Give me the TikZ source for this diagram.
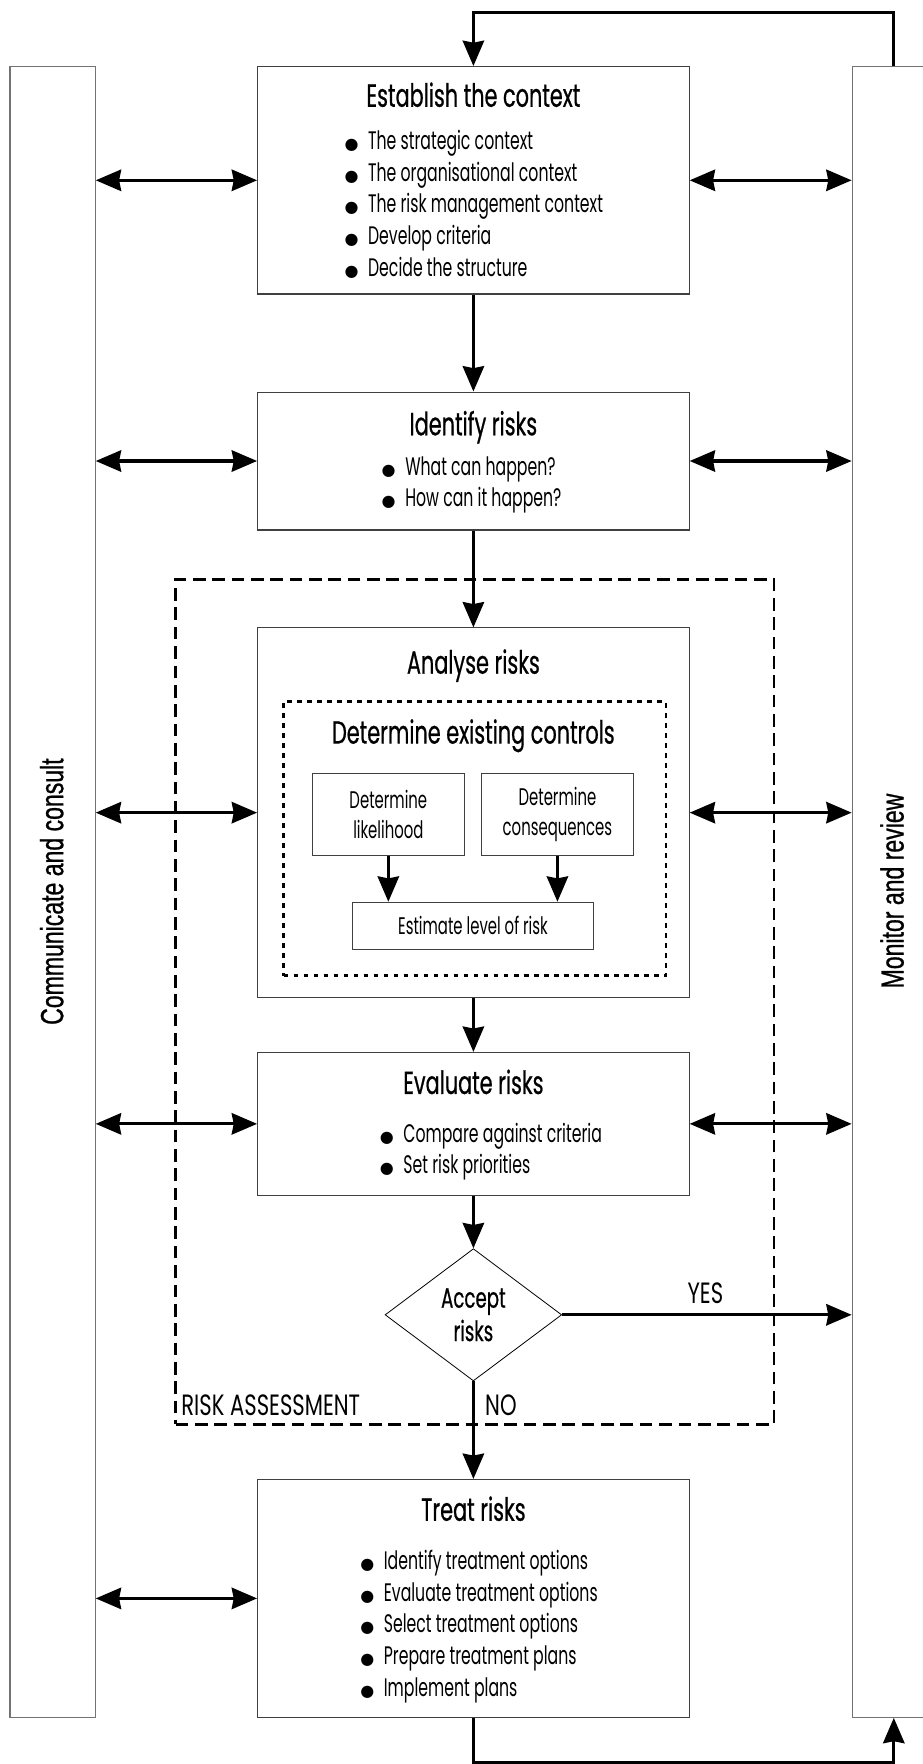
\documentclass[tikz,border=0pt]{standalone}
\usepackage{fontspec}
\setmainfont{Poppins}[FakeStretch=0.62]
\newfontfamily\headfont{Poppins}[FakeStretch=0.65,FakeBold=0.6]
\newfontfamily\capfont{Poppins}[FakeStretch=0.72]
\newfontfamily\sidefont{Liberation Sans}[FakeStretch=0.72,FakeBold=0.8]
\newfontfamily\dotfont{DejaVu Sans}
\usetikzlibrary{arrows.meta,shapes.geometric}

\newcommand{\bul}{\makebox[17.7pt][l]{\dotfont\fontsize{12}{12}\selectfont ●}}

\tikzset{
  stage/.style={draw=black!75, line width=0.8pt, minimum width=323.5pt, anchor=north, inner sep=0pt},
  panel/.style={draw=black!55, line width=0.8pt, anchor=north west, inner sep=0pt, minimum height=1237.4pt},
  subbox/.style={draw=black!75, line width=0.8pt, inner sep=0pt, align=center, font=\fontsize{18}{23}\selectfont},
  title/.style={font=\headfont\fontsize{24}{26}\selectfont, inner sep=0pt, anchor=base},
  item/.style={font=\fontsize{19}{24}\selectfont, inner sep=0pt, anchor=base west},
  flag/.style={font=\capfont\fontsize{22}{24}\selectfont, inner sep=0pt},
  side/.style={font=\sidefont\fontsize{24}{26}\selectfont, inner sep=0pt, rotate=90},
  arr/.style={line width=2.3pt, -{Stealth[length=19pt,width=16pt,inset=1.5pt]}},
  dbl/.style={line width=2.3pt, {Stealth[length=19pt,width=16pt,inset=1.5pt]}-{Stealth[length=19pt,width=16pt,inset=1.5pt]}},
  assess/.style={draw, line width=1.8pt, dash pattern=on 9.5pt off 5pt, anchor=north west, inner sep=0pt},
  ctrlbox/.style={draw, line width=1.8pt, dash pattern=on 3.6pt off 3.9pt, anchor=north west, inner sep=0pt}
}

\begin{document}
\begin{tikzpicture}[x=0.8433pt,y=0.8433pt,yscale=-1,xscale=1]
\useasboundingbox (0,0) rectangle (820,1568);

%Side panels
\node[panel, minimum width=63.9pt] (cc) at (8.4,58.7) {};
\node[panel, minimum width=84.3pt] (mr) at (757,58.7) {};
\node[side] (cclabel) at (46,792.5) {Communicate and consult};
\node[side] (mrlabel) at (793,792) {Monitor and review};

%Risk assessment frame
\node[assess, minimum width=448.6pt, minimum height=633.3pt] (ra) at (155,514) {};

%Stage boxes
\node[stage, minimum height=170.5pt] (ctx) at (420.8,58.7) {};
\node[stage, minimum height=103.4pt] (ident) at (420.8,348) {};
\node[stage, minimum height=276.9pt] (analyse) at (420.8,557.7) {};
\node[stage, minimum height=107.1pt] (evalr) at (420.8,935) {};
\node[stage, minimum height=178.3pt] (treat) at (420.8,1314.6) {};

% Text Node
\node[title] (ctxtitle) at (420.8,94.9) {Establish the context};
\node[item] (ctx1) at (306,132.5) {\bul The strategic context};
\node[item] (ctx2) at (306,160.9) {\bul The organisational context};
\node[item] (ctx3) at (306,189.3) {\bul The risk management context};
\node[item] (ctx4) at (306,217.7) {\bul Develop criteria};
\node[item] (ctx5) at (306,246.1) {\bul Decide the structure};

% Text Node
\node[title] (identtitle) at (420.8,386.9) {Identify risks};
\node[item] (ident1) at (339,422.4) {\bul What can happen?};
\node[item] (ident2) at (339,450.6) {\bul How can it happen?};

% Text Node
\node[title] (analysetitle) at (420.8,598.8) {Analyse risks};
\node[ctrlbox, minimum width=286.6pt, minimum height=205.5pt] (ctrl) at (251,622.5) {};
\node[title] (ctrltitle) at (420.8,661) {Determine existing controls};
\node[subbox, minimum width=113.9pt, minimum height=61.4pt] (likely) at (345.2,724) {Determine\\likelihood};
\node[subbox, minimum width=113.9pt, minimum height=61.4pt] (conseq) at (495.5,724) {Determine\\consequences};
\node[subbox, minimum width=181pt, minimum height=35.4pt] (level) at (420.4,823) {Estimate level of risk};

% Text Node
\node[title] (evaltitle) at (420.8,972.4) {Evaluate risks};
\node[item] (eval1) at (337.4,1015.3) {\bul Compare against criteria};
\node[item] (eval2) at (337.4,1043.5) {\bul Set risk priorities};

%Decision
\node[diamond, draw, line width=0.6pt, inner sep=0pt, minimum width=132.4pt, minimum height=99.1pt, align=center, font=\headfont\fontsize{21}{25}\selectfont] (accept) at (420.8,1168.7) {Accept\\risks};

% Text Node
\node[title] (treattitle) at (420.8,1351.8) {Treat risks};
\node[item] (treat1) at (320,1394.8) {\bul Identify treatment options};
\node[item] (treat2) at (320,1423.1) {\bul Evaluate treatment options};
\node[item] (treat3) at (320,1451.4) {\bul Select treatment options};
\node[item] (treat4) at (320,1479.7) {\bul Prepare treatment plans};
\node[item] (treat5) at (320,1508) {\bul Implement plans};

% Text Node
\node[flag, anchor=base west] (ralabel) at (161,1258.4) {RISK ASSESSMENT};
\node[flag, anchor=base west] (nolabel) at (431,1258.4) {NO};
\node[flag, anchor=base] (yeslabel) at (627,1159) {YES};

%Main flow
\draw[arr] (ctx.south) -- (ident.north);
\draw[arr] (ident.south) -- (analyse.north);
\draw[arr] (analyse.south) -- (evalr.north);
\draw[arr] (evalr.south) -- (accept.north);
\draw[arr] (accept.south) -- (treat.north);
\draw[arr] (accept.east) -- (accept.east -| mr.west);
\draw[arr] (likely.south) -- (likely.south |- level.north);
\draw[arr] (conseq.south) -- (conseq.south |- level.north);

%Side links
\draw[dbl] (cc.east |- ctx.west) -- (ctx.west);
\draw[dbl] (ctx.east) -- (ctx.east -| mr.west);
\draw[dbl] (cc.east |- ident.west) -- (ident.west);
\draw[dbl] (ident.east) -- (ident.east -| mr.west);
\draw[dbl] (cc.east |- analyse.west) -- (analyse.west);
\draw[dbl] (analyse.east) -- (analyse.east -| mr.west);
\draw[dbl] (cc.east |- evalr.west) -- (evalr.west);
\draw[dbl] (evalr.east) -- (evalr.east -| mr.west);
\draw[dbl] (cc.east |- treat.west) -- (treat.west);

%Loops
\coordinate (loopT) at (794.5,11.3);
\coordinate (loopB) at (794.5,1566.3);
\draw[arr] (loopT |- mr.north) -- (loopT) -| (ctx.north);
\draw[arr] (treat.south) |- (loopB) -- (loopB |- mr.south);

\end{tikzpicture}
\end{document}
